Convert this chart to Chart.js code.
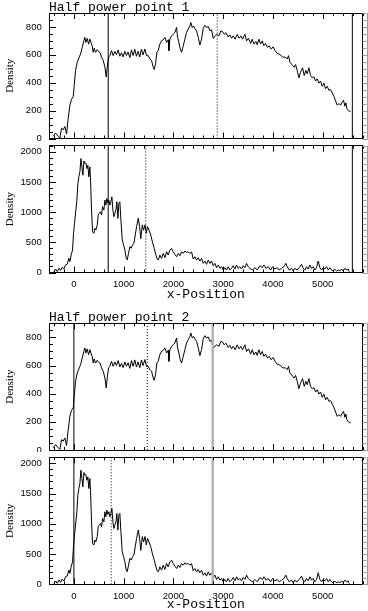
<!DOCTYPE html>
<html lang="en">
<head>
<meta charset="UTF-8">
<title>Half power point</title>
<script src="https://cdn.jsdelivr.net/npm/chart.js@4"></script>
<style>
  body { margin: 0; background: #fff; width: 368px; height: 611px; position: relative; overflow: hidden; }
  canvas { position: absolute; left: 0; }
</style>
</head>
<body>
<canvas id="p1" width="368" height="142" style="top:0px"></canvas>
<canvas id="p2" width="368" height="162" style="top:142px"></canvas>
<canvas id="p3" width="368" height="148" style="top:304px"></canvas>
<canvas id="p4" width="368" height="159" style="top:452px"></canvas>
<script>
// upper density profile (panels 1 and 3)
const upperX = [-416, -368, -315, -281, -248, -214, -181, -147, -114, -80, -47, -13, 7, 34, 67, 107, 134, 168, 201, 221,
  241, 268, 295, 322, 342, 368, 388, 408, 435, 469, 496, 523, 556, 590, 623, 650, 670, 697, 723, 757,
  790, 823, 857, 890, 924, 957, 990, 1024, 1057, 1090, 1124, 1157, 1190, 1224, 1257, 1290, 1324, 1357, 1390, 1427,
  1460, 1494, 1527, 1561, 1594, 1614, 1641, 1668, 1695, 1728, 1762, 1795, 1829, 1863, 1896, 1909, 1929, 1963, 1996, 2030,
  2064, 2084, 2110, 2137, 2164, 2198, 2231, 2264, 2298, 2331, 2351, 2378, 2405, 2432, 2465, 2499, 2532, 2566, 2599, 2633,
  2666, 2700, 2733, 2767, 2800, 2834, 2867, 2914, 2954, 2988, 3021, 3055, 3101, 3135, 3169, 3202, 3242, 3282, 3322, 3356,
  3390, 3437, 3470, 3510, 3551, 3584, 3617, 3658, 3684, 3718, 3752, 3785, 3818, 3852, 3892, 3925, 3965, 4005, 4046, 4086,
  4126, 4166, 4206, 4247, 4287, 4314, 4341, 4367, 4394, 4428, 4455, 4488, 4522, 4555, 4596, 4629, 4662, 4689, 4723, 4756,
  4790, 4823, 4857, 4890, 4924, 4957, 4991, 5024, 5058, 5091, 5125, 5159, 5192, 5225, 5259, 5292, 5326, 5359, 5393, 5419,
  5446, 5466, 5486, 5520, 5560];
const upperY = [16, 39, 16, 4, 74, 63, 86, 32, 145, 240, 282, 299, 382, 488, 547, 583, 606, 654, 701, 725,
  689, 718, 677, 713, 689, 665, 618, 647, 618, 637, 623, 618, 583, 559, 512, 441, 512, 583, 594, 630,
  594, 625, 600, 635, 590, 615, 585, 625, 595, 620, 580, 635, 595, 640, 590, 625, 585, 640, 600, 642,
  594, 594, 571, 559, 512, 495, 535, 618, 630, 677, 701, 708, 725, 689, 708, 630, 713, 736, 748, 760,
  796, 725, 689, 642, 618, 665, 713, 760, 784, 807, 831, 796, 807, 789, 772, 725, 670, 713, 789, 812,
  796, 803, 772, 779, 718, 736, 748, 736, 772, 767, 747, 759, 728, 743, 719, 736, 712, 747, 719, 736,
  712, 747, 700, 719, 681, 712, 677, 696, 672, 712, 677, 700, 665, 681, 653, 665, 641, 657, 629, 610,
  606, 594, 582, 585, 570, 594, 546, 539, 523, 511, 530, 488, 435, 475, 507, 452, 488, 464, 507, 452,
  435, 443, 412, 428, 397, 412, 374, 397, 357, 374, 346, 350, 326, 303, 270, 239, 251, 239, 262, 274,
  232, 255, 215, 199, 192];

// lower density profile (panels 2 and 4)
const lowerX = [-402, -362, -335, -295, -268, -234, -201, -167, -134, -100, -80, -54, -27, -7, 13, 40, 60, 80, 100, 121,
  141, 161, 181, 201, 221, 241, 261, 281, 301, 322, 335, 355, 375, 402, 422, 442, 469, 489, 509, 536,
  556, 576, 603, 623, 643, 663, 683, 703, 723, 744, 764, 784, 804, 824, 844, 864, 884, 904, 924, 945,
  972, 999, 1025, 1052, 1072, 1099, 1126, 1152, 1179, 1206, 1233, 1260, 1295, 1320, 1345, 1375, 1400, 1430, 1455, 1480,
  1510, 1545, 1580, 1615, 1645, 1675, 1700, 1728, 1762, 1795, 1829, 1863, 1896, 1929, 1963, 1996, 2030, 2064, 2097, 2131,
  2164, 2198, 2231, 2264, 2298, 2331, 2365, 2398, 2432, 2465, 2499, 2532, 2566, 2599, 2633, 2666, 2700, 2733, 2767, 2800,
  2834, 2867, 2901, 2934, 2968, 3001, 3035, 3068, 3101, 3135, 3169, 3202, 3236, 3269, 3303, 3336, 3370, 3403, 3437, 3470,
  3504, 3537, 3591, 3638, 3685, 3738, 3785, 3818, 3859, 3905, 3952, 3993, 4039, 4086, 4126, 4173, 4220, 4260, 4287, 4327,
  4374, 4408, 4441, 4488, 4528, 4575, 4608, 4642, 4675, 4709, 4743, 4776, 4810, 4843, 4877, 4910, 4944, 4978, 5011, 5044,
  5078, 5111, 5145, 5178, 5211, 5245, 5278, 5312, 5345, 5379, 5412, 5446, 5479, 5513, 5533];
const lowerY = [16, 54, 16, 71, 33, 87, 54, 126, 137, 236, 181, 291, 373, 649, 814, 1034, 1199, 1474, 1584, 1667,
  1886, 1749, 1611, 1848, 1804, 1815, 1721, 1776, 1584, 1749, 1529, 1034, 677, 649, 732, 704, 787, 951, 979, 1006,
  951, 1089, 1034, 1199, 1116, 1226, 1155, 1199, 1116, 1171, 1254, 1034, 924, 979, 1034, 1171, 896, 1144, 1171, 869,
  539, 457, 373, 236, 209, 319, 429, 401, 457, 484, 621, 759, 900, 760, 560, 790, 700, 790, 650, 760,
  700, 620, 500, 400, 300, 220, 210, 289, 234, 316, 245, 344, 289, 371, 399, 344, 300, 261, 316, 278,
  344, 316, 355, 333, 344, 316, 344, 223, 261, 206, 245, 190, 234, 151, 190, 135, 206, 151, 190, 113,
  151, 80, 124, 69, 96, 41, 80, 41, 96, 41, 69, 113, 58, 124, 69, 96, 58, 113, 80, 151,
  96, 69, 41, 80, 41, 113, 80, 124, 69, 96, 41, 96, 58, 80, 41, 69, 96, 151, 96, 41,
  69, 25, 69, 41, 80, 135, 69, 41, 96, 58, 124, 69, 96, 41, 80, 190, 80, 41, 80, 58,
  96, 41, 80, 41, 25, 52, 25, 41, 25, 58, 25, 69, 41, 58, 14];

const xTickLabels = [0, 1000, 2000, 3000, 4000, 5000];
const upperTickLabels = [0, 200, 400, 600, 800];
const lowerTickLabels = [0, 500, 1000, 1500, 2000];
const titles = ['Half power point 1', 'Half power point 2'];

// marker positions per panel
const p1Solid = [690, 5596], p1Dotted = [2880], p1Gray = [];
const p2Solid = [690, 5596], p2Dotted = [1445], p2Gray = [];
const p3Solid = [0], p3Dotted = [1475], p3Gray = [2790];
const p4Solid = [0], p4Dotted = [750], p4Gray = [2790];

const xMin = -500, xMax = 5800;

function toPoints(xs, ys) {
  return xs.map((x, i) => ({x: x, y: ys[i]}));
}

function vline(v, top, color, width, dash) {
  return {
    data: [{x: v, y: 0}, {x: v, y: top}],
    borderColor: color, borderWidth: width, borderDash: dash,
    pointRadius: 0, fill: false
  };
}

// ticks point inward on the plot box; the right-hand axis ticks sit outside it in grey
function inwardTicks(yMinor, yMajor) {
  return {
    id: 'inwardTicks',
    afterDraw(chart) {
      const {ctx, chartArea: a} = chart;
      const xs = chart.scales.x, ys = chart.scales.y;
      ctx.save();
      ctx.lineWidth = 1;
      ctx.setLineDash([]);
      ctx.strokeStyle = '#000';
      ctx.beginPath();
      for (let v = -400; v <= xMax; v += 200) {
        const len = v % 1000 === 0 ? 6 : 3;
        const px = Math.round(xs.getPixelForValue(v)) + 0.5;
        ctx.moveTo(px, a.bottom); ctx.lineTo(px, a.bottom - len);
        ctx.moveTo(px, a.top); ctx.lineTo(px, a.top + len);
      }
      for (let v = 0; v <= ys.max; v += yMinor) {
        const len = v % yMajor === 0 ? 7 : 4;
        const py = Math.round(ys.getPixelForValue(v)) + 0.5;
        ctx.moveTo(a.left, py); ctx.lineTo(a.left + len, py);
      }
      ctx.stroke();
      ctx.strokeStyle = '#9a9a9a';
      ctx.beginPath();
      for (let v = 0; v <= ys.max; v += yMinor) {
        const len = v % yMajor === 0 ? 6 : 4;
        const py = Math.round(ys.getPixelForValue(v)) + 0.5;
        ctx.moveTo(a.right, py); ctx.lineTo(a.right + len, py);
      }
      ctx.moveTo(367.5, a.top); ctx.lineTo(367.5, a.bottom);
      ctx.stroke();
      ctx.restore();
    }
  };
}

const tickFont = {family: 'Liberation Sans', size: 9.5};
const border = {display: true, color: '#000', width: 1};
const zeroPad = s => { s.paddingTop = 0; s.paddingBottom = 0; s.paddingLeft = 0; s.paddingRight = 0; };

function makePanel(id, p) {
  const datasets = [];
  p.solid.forEach(v => datasets.push(vline(v, p.yMax, '#000', 1, [])));
  p.dotted.forEach(v => datasets.push(vline(v, p.yMax, '#000', 1, [1, 2])));
  p.gray.forEach(v => datasets.push(vline(v, p.yMax, '#b4b4b4', 2.5, [])));
  datasets.push({
    data: p.curve, borderColor: '#000', borderWidth: 1,
    pointRadius: 0, tension: 0, fill: false
  });

  new Chart(document.getElementById(id), {
    type: 'line',
    data: {datasets: datasets},
    options: {
      responsive: false,
      animation: false,
      devicePixelRatio: 1,
      layout: {padding: 0},
      plugins: {
        legend: {display: false},
        tooltip: {enabled: false}
      },
      scales: {
        x: {
          type: 'linear', position: 'bottom', min: xMin, max: xMax,
          afterBuildTicks: s => { s.ticks = xTickLabels.map(v => ({value: v})); },
          afterFit: s => { s.height = p.bottomH; zeroPad(s); },
          grid: {display: false, drawTicks: false},
          border: border,
          ticks: {
            display: p.xLabels, autoSkip: false, maxRotation: 0, padding: p.xPad || 0,
            color: '#000', font: tickFont, callback: v => String(v)
          },
          title: {
            display: p.xLabels, text: 'x-Position', color: '#000',
            font: {family: 'Liberation Mono', size: 13, lineHeight: 1},
            padding: {top: 0, bottom: p.xTitlePad || 0}
          }
        },
        x2: {
          type: 'linear', position: 'top', min: xMin, max: xMax,
          afterFit: s => { s.height = p.topH; zeroPad(s); },
          grid: {display: false, drawTicks: false},
          border: border,
          ticks: {display: false},
          title: {
            display: !!p.title, text: p.title || '', align: 'start', color: '#000',
            font: {family: 'Liberation Mono', size: 13, lineHeight: 1.1},
            padding: {top: p.titlePad || 0, bottom: 0}
          }
        },
        y: {
          type: 'linear', position: 'left', min: 0, max: p.yMax,
          afterBuildTicks: s => { s.ticks = p.yTicks.map(v => ({value: v})); },
          afterFit: s => { s.width = 49; zeroPad(s); },
          grid: {display: false, drawTicks: false},
          border: border,
          ticks: {padding: 7.3, color: '#000', font: tickFont, callback: v => String(v)},
          title: {
            display: true, text: 'Density', color: '#000',
            font: {family: 'Liberation Serif', size: 11},
            padding: {top: 3.4, bottom: 0}
          }
        },
        y2: {
          type: 'linear', position: 'right', min: 0, max: p.yMax,
          afterFit: s => { s.width = 5.5; zeroPad(s); },
          grid: {display: false, drawTicks: false},
          border: border,
          ticks: {display: false}
        }
      }
    },
    plugins: [inwardTicks(p.yMinor, p.yMajor)]
  });
}

const upperCurve = toPoints(upperX, upperY);
const lowerCurve = toPoints(lowerX, lowerY);

makePanel('p1', {curve: upperCurve, yMax: 900, yTicks: upperTickLabels, yMinor: 50, yMajor: 200,
  solid: p1Solid, dotted: p1Dotted, gray: p1Gray, topH: 13, bottomH: 3.5,
  title: titles[0], titlePad: 0, xLabels: false});
makePanel('p2', {curve: lowerCurve, yMax: 2100, yTicks: lowerTickLabels, yMinor: 100, yMajor: 500,
  solid: p2Solid, dotted: p2Dotted, gray: p2Gray, topH: 3.7, bottomH: 31.5,
  xLabels: true, xPad: 5.8, xTitlePad: 3});
makePanel('p3', {curve: upperCurve, yMax: 900, yTicks: upperTickLabels, yMinor: 50, yMajor: 200,
  solid: p3Solid, dotted: p3Dotted, gray: p3Gray, topH: 19.3, bottomH: 2,
  title: titles[1], titlePad: 6, xLabels: false});
makePanel('p4', {curve: lowerCurve, yMax: 2100, yTicks: lowerTickLabels, yMinor: 100, yMajor: 500,
  solid: p4Solid, dotted: p4Dotted, gray: p4Gray, topH: 5.3, bottomH: 26.7,
  xLabels: true, xPad: 6, xTitlePad: 0});
</script>
</body>
</html>
